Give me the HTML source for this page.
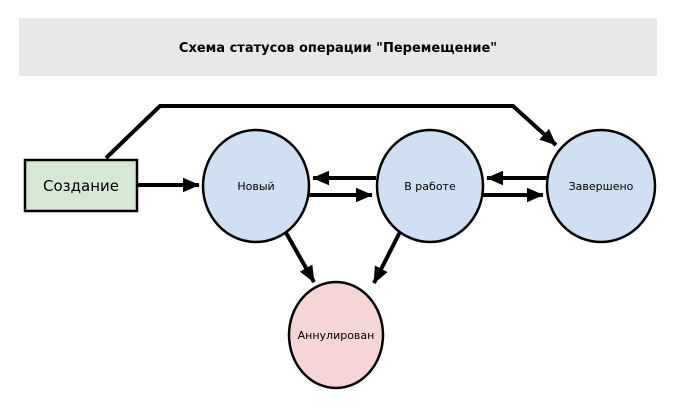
<!DOCTYPE html>
<html><head><meta charset="utf-8"><style>
html,body{margin:0;padding:0;background:#fff;width:676px;height:410px;overflow:hidden}
</style></head><body>
<svg width="676" height="410" xmlns="http://www.w3.org/2000/svg" font-family="'DejaVu Sans','Liberation Sans',sans-serif">
<defs><marker id="a" markerWidth="6" markerHeight="6" refX="4" refY="3" orient="auto" markerUnits="strokeWidth"><path d="M0,1.2 L4.2,3 L0,4.8 z" fill="#000"/></marker></defs>
<rect x="19" y="18" width="638" height="58" fill="#e8e8e8"/>
<text x="338" y="52" text-anchor="middle" font-size="13" font-weight="bold">Схема статусов операции "Перемещение"</text>
<g stroke="#000" stroke-width="4" fill="none">
<polyline points="106,158 160,106 513,106 556,145" marker-end="url(#a)"/>
<line x1="137" y1="185" x2="199" y2="185" marker-end="url(#a)"/>
<line x1="309" y1="195" x2="372" y2="195" marker-end="url(#a)"/>
<line x1="376" y1="178" x2="313" y2="178" marker-end="url(#a)"/>
<line x1="483" y1="195" x2="543" y2="195" marker-end="url(#a)"/>
<line x1="547" y1="178" x2="487" y2="178" marker-end="url(#a)"/>
<line x1="285" y1="231" x2="314" y2="282" marker-end="url(#a)"/>
<line x1="400" y1="232" x2="374" y2="283" marker-end="url(#a)"/>
</g>
<g stroke="#000" stroke-width="2.5">
<rect x="25" y="160" width="112" height="51" fill="#d5e8d4"/>
<ellipse cx="256" cy="186" rx="53" ry="56" fill="#cfe0f2"/>
<ellipse cx="430" cy="186" rx="53" ry="56" fill="#cfe0f2"/>
<ellipse cx="601" cy="186" rx="54" ry="56" fill="#cfe0f2"/>
<ellipse cx="336" cy="335" rx="47" ry="53" fill="#f5d5d5"/>
</g>
<g text-anchor="middle" font-size="11">
<text x="81" y="191" font-size="15">Создание</text>
<text x="256" y="190">Новый</text>
<text x="430" y="190">В работе</text>
<text x="601" y="190">Завершено</text>
<text x="336" y="339">Аннулирован</text>
</g>
</svg>
</body></html>
